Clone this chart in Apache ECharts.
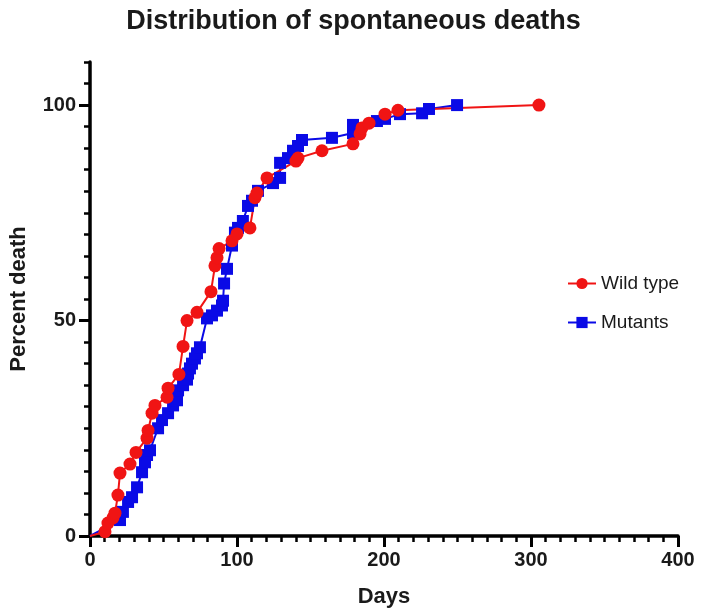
<!DOCTYPE html>
<html>
<head>
<meta charset="utf-8">
<script src="https://cdn.jsdelivr.net/npm/echarts@6/dist/echarts.min.js"></script>
<style>
html,body{margin:0;padding:0;background:#fff;}
#chart{width:707px;height:615px;}
</style>
</head>
<body>
<div id="chart"></div>
<script>
// Wild type: [days, percent death]
const wildDays = [0, 10.2, 12.2, 15.6, 17, 19, 20.4, 27.2, 31.3, 38.8, 39.5, 42.2, 44.2, 52.4, 53.1, 60.5, 63.3, 66, 72.8, 82.3, 85, 86.4, 87.8, 96.6, 100, 108.8, 112.2, 113.6, 120.4, 140.1, 141.5, 157.8, 178.9, 183.7, 185, 189.8, 200.7, 209.5, 305.4];
const wildPct  = [0, 1.0, 3.0, 4.2, 5.3, 9.5, 14.6, 16.7, 19.4, 22.7, 24.5, 28.5, 30.3, 32.2, 34.3, 37.5, 44, 50, 51.9, 56.7, 62.7, 64.6, 66.7, 68.5, 70.1, 71.5, 78.5, 79.6, 83.1, 87, 87.7, 89.4, 91, 93.3, 94.7, 95.8, 97.9, 98.8, 100];
// Mutants
const mutDays = [0, 20.4, 22.4, 25.9, 28.6, 32, 35.4, 37.4, 38.8, 40.8, 46.3, 49, 53.1, 56.5, 59.2, 59.9, 63.3, 66, 66.7, 68, 69.4, 71.4, 72.8, 74.8, 79.6, 83, 86.4, 89.8, 90.5, 91.2, 93.2, 96.6, 98.6, 100.7, 104, 107.5, 110.2, 114.3, 124.5, 129.3, 129.3, 134.7, 138.1, 141.5, 144.2, 164.6, 178.9, 178.9, 195.2, 200.7, 210.9, 225.9, 230.6, 249.7];
const mutPct  = [0, 3.7, 5.6, 7.9, 9.0, 11.3, 14.8, 17.1, 18.8, 19.9, 25, 26.9, 28.5, 30.3, 31.5, 33.8, 35.0, 36.3, 37.7, 38.9, 40, 41.2, 42.4, 43.8, 50.5, 51.2, 52.3, 53.5, 54.6, 58.6, 62, 67.4, 70.4, 71.5, 73.1, 76.6, 77.8, 80.1, 81.9, 83.1, 86.6, 87.7, 89.4, 90.5, 91.9, 92.4, 93.5, 95.4, 96.3, 96.8, 97.9, 98.1, 99.1, 100];
const seriesNames = ['Wild type', 'Mutants'];
const xTickLabels = [0, 100, 200, 300, 400];
const yTickLabels = [0, 50, 100];

function toData(xs, ys) {
  return xs.map((x, i) => i === 0 ? {value: [x, ys[i]], symbol: 'none'} : [x, ys[i]]);
}

const FONT = '"Liberation Sans", Arial, sans-serif';
const chart = echarts.init(document.getElementById('chart'));
const axisLineStyle = {color: '#000', width: 3.5};
chart.setOption({
  animation: false,
  backgroundColor: '#fff',
  title: {
    text: 'Distribution of spontaneous deaths',
    left: 'center', top: 3,
    textStyle: {fontFamily: FONT, fontSize: 27, fontWeight: 'bold', color: '#1a1a1a'}
  },
  legend: {
    orient: 'vertical', left: 562, top: 269,
    itemWidth: 28, itemHeight: 14, itemGap: 20,
    data: seriesNames,
    textStyle: {fontFamily: FONT, fontSize: 19, color: '#1a1a1a'}
  },
  grid: {left: 90, right: 29, top: 62, bottom: 79, containLabel: false},
  xAxis: [
    {
      type: 'value', min: 0, max: 400, interval: 10, position: 'bottom',
      axisLine: {show: true, lineStyle: axisLineStyle},
      axisTick: {show: true, length: 6, lineStyle: {color: '#000', width: 2.5}},
      axisLabel: {show: false},
      splitLine: {show: false}
    },
    {
      type: 'value', min: 0, max: 400, interval: 100, position: 'bottom',
      axisLine: {show: false},
      axisTick: {show: true, length: 11, lineStyle: {color: '#000', width: 3}, customValues: xTickLabels},
      axisLabel: {show: true, margin: 14, customValues: xTickLabels, fontFamily: FONT, fontSize: 20, fontWeight: 'bold', color: '#1a1a1a'},
      splitLine: {show: false},
      name: 'Days', nameLocation: 'middle', nameGap: 50,
      nameTextStyle: {fontFamily: FONT, fontSize: 22, fontWeight: 'bold', color: '#1a1a1a'}
    }
  ],
  yAxis: [
    {
      type: 'value', min: 0, max: 110, interval: 5, position: 'left',
      axisLine: {show: true, lineStyle: axisLineStyle},
      axisTick: {show: true, length: 6, lineStyle: {color: '#000', width: 2.5}},
      axisLabel: {show: false},
      splitLine: {show: false}
    },
    {
      type: 'value', min: 0, max: 110, interval: 50, position: 'left',
      axisLine: {show: false},
      axisTick: {show: true, length: 11, lineStyle: {color: '#000', width: 3}, customValues: yTickLabels},
      axisLabel: {show: true, margin: 14, customValues: yTickLabels, fontFamily: FONT, fontSize: 20, fontWeight: 'bold', color: '#1a1a1a'},
      splitLine: {show: false},
      name: 'Percent death', nameLocation: 'middle', nameGap: 60, nameRotate: 90,
      nameTextStyle: {fontFamily: FONT, fontSize: 22, fontWeight: 'bold', color: '#1a1a1a'}
    }
  ],
  series: [
    {
      name: 'Mutants', type: 'line', xAxisIndex: 0, yAxisIndex: 0,
      symbol: 'rect', symbolSize: 12,
      itemStyle: {color: '#0a0ae6'},
      lineStyle: {color: '#0a0ae6', width: 2},
      data: toData(mutDays, mutPct)
    },
    {
      name: 'Wild type', type: 'line', xAxisIndex: 0, yAxisIndex: 0,
      symbol: 'circle', symbolSize: 13,
      itemStyle: {color: '#f01414'},
      lineStyle: {color: '#f01414', width: 2},
      data: toData(wildDays, wildPct)
    }
  ]
});
</script>
</body>
</html>
